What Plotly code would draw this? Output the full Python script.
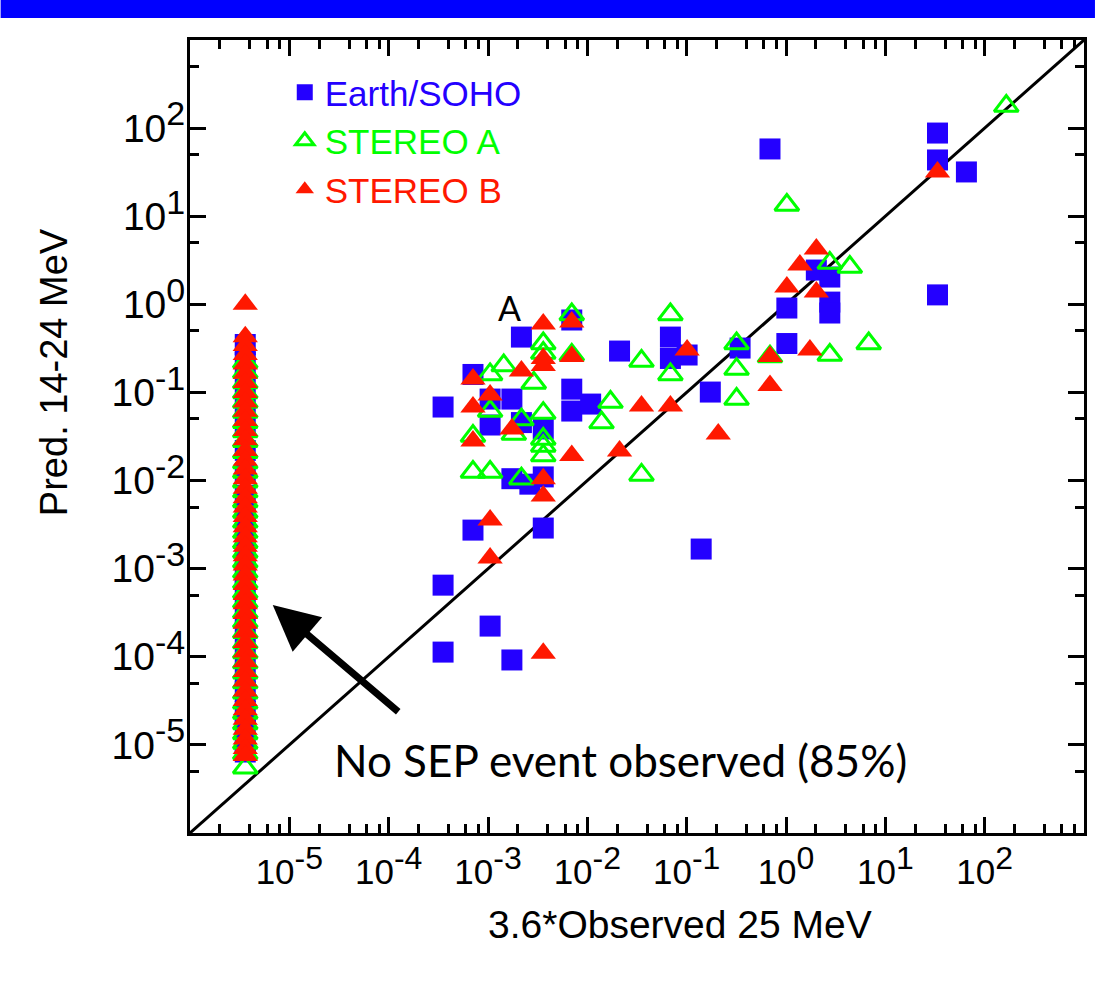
import plotly.graph_objects as go

# ---------------- data ----------------
tick_vals = [1e-5, 1e-4, 1e-3, 1e-2, 1e-1, 1e0, 1e1, 1e2]
tick_exp = ["-5", "-4", "-3", "-2", "-1", "0", "1", "2"]

# value used for "no SEP event observed" (3.6 * 1e-6)
x_no_event = 3.6e-6

# Earth/SOHO – events with observed SEPs
earth_x = [3.53e-4, 7.06e-4, 2.17e-3, 6.97e-3, 1.05e-3, 1.74e-3, 1.05e-3, 2.17e-3, 3.6e-3, 1.74e-3,
           2.64e-3, 3.6e-3, 7.06e-4, 3.6e-3, 3.53e-4, 1.05e-3, 3.53e-4, 1.74e-3, 6.97e-3, 6.97e-3,
           1.08e-2, 2.11e-2, 6.86e-2, 6.86e-2, 0.101, 0.173, 0.140, 0.345, 0.69, 1.02,
           1.02, 2.02, 2.76, 2.76, 2.76, 33.5, 33.5, 65.5, 33.5]
earth_y = [0.0683, 0.16, 0.425, 0.664, 0.0841, 0.0841, 0.0427, 0.0455, 0.0385, 0.0105,
           0.0091, 0.011, 0.00274, 0.00289, 6.5e-4, 2.23e-4, 1.13e-4, 9.2e-5, 0.109, 0.0615,
           0.0738, 0.295, 0.425, 0.243, 0.266, 0.101, 0.00167, 0.319, 58.0, 0.908,
           0.359, 2.45, 2.04, 1.06, 0.797, 87.9, 43.5, 31.8, 1.28]
# Earth/SOHO – no event observed
earth_none_y = [0.35, 0.22, 0.13, 0.075, 0.04, 0.022, 0.012, 0.0068, 0.0041, 0.0025,
                0.0015, 9e-4, 5.5e-4, 3.2e-4, 1.9e-4, 1.1e-4, 6.5e-5, 4e-5, 2.4e-5, 1.5e-5,
                1.05e-5, 8.3e-6]

# STEREO A
sta_x = [165.0, 1.02, 2.76, 4.39, 0.318, 0.318, 0.318, 2.76, 6.8, 0.69,
         6.97e-3, 6.97e-3, 6.86e-2, 3.51e-2, 6.86e-2, 1.71e-2, 1.39e-2, 3.51e-2, 3.6e-3, 3.6e-3,
         1.44e-3, 1.05e-3, 2.89e-3, 1.05e-3, 3.6e-3, 2.17e-3, 7.06e-4, 1.82e-3, 3.6e-3, 3.6e-3,
         3.6e-3, 7.06e-4, 1.05e-3, 2.17e-3]
sta_y = [178.0, 13.4, 2.94, 2.65, 0.359, 0.184, 0.0841, 0.266, 0.359, 0.255,
         0.766, 0.266, 0.766, 0.227, 0.16, 0.0778, 0.0455, 0.0116, 0.359, 0.28,
         0.202, 0.16, 0.128, 0.0615, 0.0583, 0.0492, 0.032, 0.0337, 0.0296, 0.0247,
         0.0192, 0.0125, 0.0125, 0.0105]
sta_none_y = [0.22, 0.17, 0.13, 0.1, 0.078, 0.06, 0.046, 0.036, 0.028, 0.021,
              0.016, 0.0125, 0.0097, 0.0075, 0.0058, 0.0044, 0.0034, 0.0026, 0.002, 0.00155,
              0.0012, 0.00092, 0.0007, 0.00054, 0.00042, 0.00032, 0.00025, 0.00019, 0.000145, 0.000112,
              8.6e-5, 6.6e-5, 5.1e-5, 3.9e-5, 3e-5, 2.3e-5, 1.75e-5, 1.35e-5, 1.05e-5, 8e-6,
              5.5e-6]

# STEREO B
stb_x = [3.6e-3, 3.6e-3, 3.6e-3, 2.17e-3, 7.06e-4, 1.05e-3, 7.06e-4, 1.74e-3, 6.97e-3, 6.97e-3,
         0.101, 3.51e-2, 6.86e-2, 7.06e-4, 3.6e-3, 3.6e-3, 6.97e-3, 1.05e-3, 1.05e-3, 2.11e-2,
         0.208, 3.6e-3, 2.02, 1.38, 1.02, 2.02, 33.5, 0.69, 1.74, 0.69]
stb_y = [0.597, 0.243, 0.202, 0.175, 0.142, 0.0934, 0.0683, 0.0385, 0.63, 0.255,
         0.303, 0.0702, 0.0702, 0.0281, 0.0105, 0.00667, 0.0192, 0.00356, 0.00132, 0.0216,
         0.0337, 1.1e-4, 4.24, 2.79, 1.57, 1.38, 31.8, 0.255, 0.303, 0.12]
stb_none_y = [1.0, 0.43, 0.34, 0.27, 0.21, 0.165, 0.13, 0.1, 0.078, 0.061,
              0.048, 0.037, 0.029, 0.022, 0.017, 0.0135, 0.0105, 0.0082, 0.0064, 0.005,
              0.0039, 0.003, 0.0023, 0.0018, 0.0014, 0.0011, 0.00085, 0.00066, 0.00051, 0.0004,
              0.00031, 0.00024, 0.00019, 0.000145, 0.000113, 8.8e-5, 6.8e-5, 5.3e-5, 4.1e-5, 3.2e-5,
              2.5e-5, 1.95e-5, 1.5e-5, 1.17e-5, 9.1e-6, 7.6e-6]

# one-to-one reference line (spans the axis range)
diag = [1e-6, 1e3]

BLUE = "#2400FF"
GREEN = "#00FF00"
RED = "#FF1800"


def power_labels(exps, exp_px):
    return ["10<sup><span style='font-size:%dpx'>%s</span></sup>" % (exp_px, e) for e in exps]


# ---------------- figure ----------------
fig = go.Figure()

fig.add_trace(go.Scatter(x=diag, y=diag, mode="lines", line=dict(color="black", width=3),
                         showlegend=False, hoverinfo="skip"))

fig.add_trace(go.Scatter(
    x=earth_x + [x_no_event] * len(earth_none_y), y=earth_y + earth_none_y,
    mode="markers", name="<span style='color:%s'>Earth/SOHO</span>" % BLUE,
    marker=dict(symbol="square", size=21, color=BLUE, line=dict(width=0))))

fig.add_trace(go.Scatter(
    x=sta_x + [x_no_event] * len(sta_none_y), y=sta_y + sta_none_y,
    mode="markers", name="<span style='color:%s'>STEREO A</span>" % GREEN,
    marker=dict(symbol="triangle-up-open", size=21, color=GREEN, line=dict(width=3, color=GREEN))))

fig.add_trace(go.Scatter(
    x=stb_x + [x_no_event] * len(stb_none_y), y=stb_y + stb_none_y,
    mode="markers", name="<span style='color:%s'>STEREO B</span>" % RED,
    marker=dict(symbol="triangle-up", size=22, color=RED, line=dict(width=0))))

x_minor = [k * 10.0 ** n for n in range(-6, 3) for k in (2, 4, 6, 8)]
y_minor = [5 * 10.0 ** n for n in range(-6, 3)]

axis_common = dict(
    type="log", range=[-6, 3], showgrid=False, zeroline=False,
    showline=True, linecolor="black", linewidth=3, mirror="ticks",
    ticks="inside", ticklen=16, tickwidth=3, tickcolor="black",
    tickmode="array", tickvals=tick_vals,
)

fig.update_xaxes(
    **axis_common,
    ticktext=power_labels(tick_exp, 32),
    tickfont=dict(family="Liberation Sans", size=35, color="black"),
    ticklabelstandoff=6,
    minor=dict(tickmode="array", tickvals=x_minor, ticks="inside", ticklen=9,
               tickwidth=3, tickcolor="black", showgrid=False),
)
fig.update_yaxes(
    **axis_common,
    ticktext=power_labels(tick_exp, 34),
    tickfont=dict(family="Liberation Sans", size=39, color="black"),
    ticklabelstandoff=-6,
    minor=dict(tickmode="array", tickvals=y_minor, ticks="inside", ticklen=9,
               tickwidth=3, tickcolor="black", showgrid=False),
)

fig.update_layout(
    width=1098, height=982,
    margin=dict(l=190, r=11, t=40, b=149),
    paper_bgcolor="white", plot_bgcolor="white",
    font=dict(family="Liberation Sans", color="black"),
    showlegend=True,
    legend=dict(x=0.106, y=0.971, xanchor="left", yanchor="top",
                bgcolor="rgba(0,0,0,0)", borderwidth=0,
                font=dict(family="Liberation Sans", size=35),
                itemwidth=30, tracegroupgap=0, itemclick=False),
    shapes=[dict(type="rect", xref="paper", yref="paper",
                 x0=-190 / 897, x1=1 + 11 / 897, y0=1 + 22 / 793, y1=1 + 40 / 793,
                 fillcolor="#0000FF", line=dict(width=0), layer="above")],
    annotations=[
        dict(text="Pred. 14-24 MeV", xref="paper", yref="paper", x=-0.178, y=0.581,
             textangle=-90, showarrow=False,
             font=dict(family="Liberation Sans", size=38, color="black")),
        dict(text="3.6*Observed 25 MeV", xref="paper", yref="paper", x=0.548, y=-0.145,
             showarrow=False,
             font=dict(family="Liberation Sans", size=39, color="black")),
        dict(text="A", xref="x", yref="y", x=-2.779, y=-0.031, showarrow=False,
             font=dict(family="Lato", size=34, color="black")),
        dict(text="No SEP event observed (85%)", xref="x", yref="y", x=-1.666, y=-5.173,
             showarrow=False, font=dict(family="Lato", size=44, color="black")),
        dict(text="", xref="x", yref="y", x=-5.167, y=-3.413, ax=127, ay=108,
             showarrow=True, arrowhead=2, arrowsize=1.3, arrowwidth=7, arrowcolor="black"),
    ],
)

fig.write_html("out.html", config={"displayModeBar": False},
               post_script="document.body.style.margin='0px';")
